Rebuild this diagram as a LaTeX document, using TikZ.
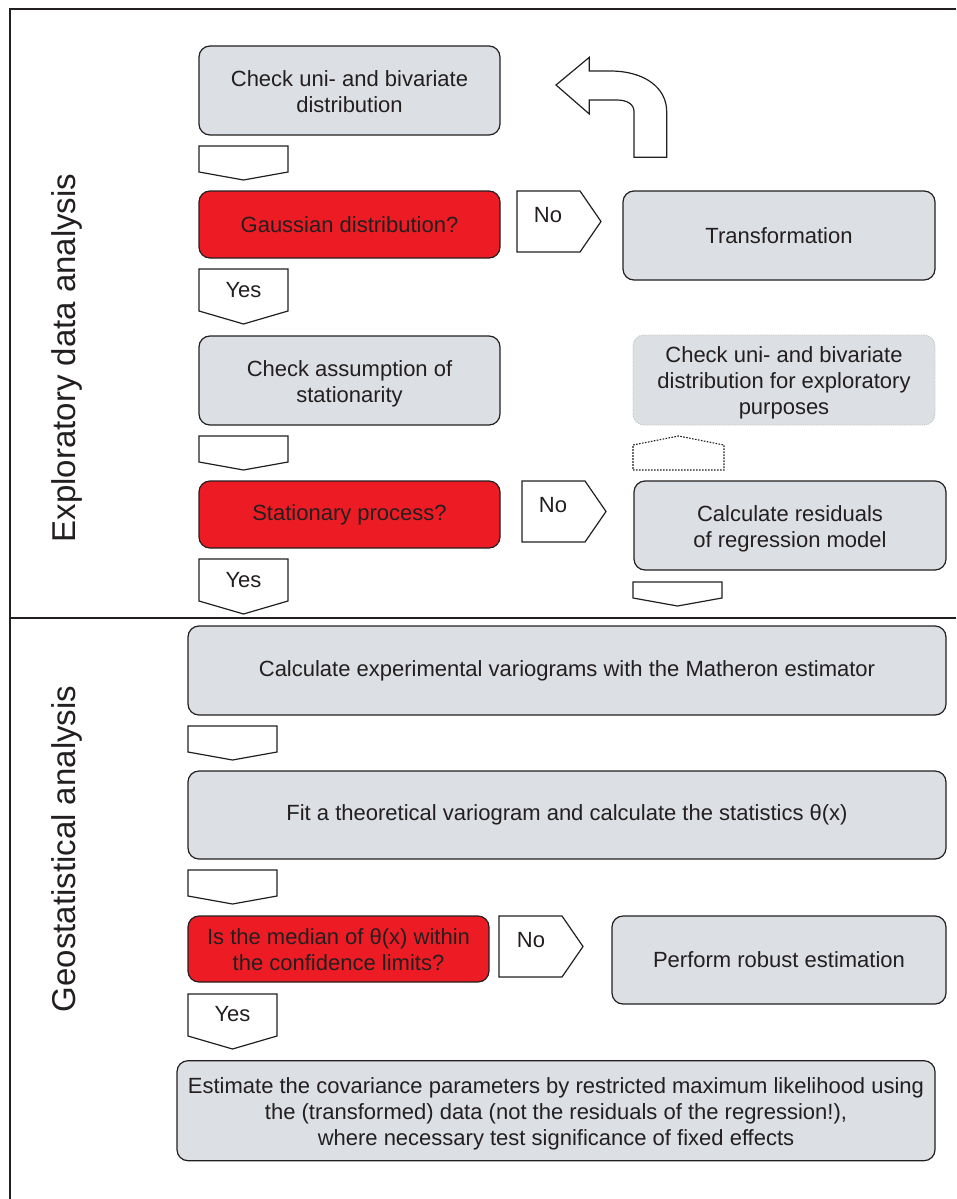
\documentclass[tikz,border=0pt]{standalone}
\usepackage{fontspec}
\setmainfont{Liberation Sans}
\usetikzlibrary{positioning}
\definecolor{boxgray}{HTML}{DCDFE3}
\definecolor{flowred}{HTML}{ED1C24}
\definecolor{inkgray}{HTML}{231F20}

\tikzset{
    flowbox/.style = {draw = inkgray, line width = 1.2pt, rounded corners = 11pt, fill = boxgray,
        align = center, inner sep = 0pt, text = inkgray, font = \fontsize{22}{26}\selectfont},
    redbox/.style = {flowbox, fill = flowred},
    ghostbox/.style = {flowbox, draw = gray!45, densely dotted, line width = 0.9pt},
    blockarrow/.style = {draw = inkgray, line width = 1.2pt, fill = white},
    ghostarrow/.style = {blockarrow, dash pattern = on 1.6pt off 1.4pt, line width = 1.1pt},
    flowlabel/.style = {font = \fontsize{22}{26}\selectfont, text = inkgray, inner sep = 0pt},
    sidelabel/.style = {font = \fontsize{33}{40}\selectfont, rotate = 90, text = inkgray, inner sep = 0pt},
    frameline/.style = {draw = inkgray, line width = 1.3pt}
}

% block arrow pointing down: left, top, shoulder, tip
\newcommand{\downblock}[5][blockarrow]{%
    \draw[#1] (#2,#3) -- (#2+89,#3) -- (#2+89,#4) -- (#2+44.5,#5) -- (#2,#4) -- cycle;}
% block arrow pointing right: left, top
\newcommand{\rightblock}[2]{%
    \draw[blockarrow] (#1,#2) -- (#1+63,#2) -- (#1+84,#2+30.5) -- (#1+63,#2+61) -- (#1,#2+61) -- cycle;}
% push multi-line box texts a little down
\newcommand{\lowered}[1]{\raisebox{-3.5pt}[\height][\depth]{\begin{tabular}{@{}c@{}}#1\end{tabular}}}

\begin{document}
\begin{tikzpicture}[x = 1pt, y = -1pt]
    \useasboundingbox (0,0) rectangle (956,1199);

    % frame
    \draw[frameline] (956,9) -- (10,9) -- (10,1199);
    \draw[frameline] (10,618) -- (956,618);
    \node[sidelabel] (eda) at (67,358) {Exploratory data analysis};
    \node[sidelabel] (geo) at (67,849) {Geostatistical analysis};

    % exploratory part
    \node[flowbox, minimum width = 301pt, minimum height = 89pt] (unibi) at (349.5,90.5) {\lowered{Check uni- and bivariate\\distribution}};
    \downblock{199}{146}{172}{180}
    \node[redbox, minimum width = 301pt, minimum height = 67pt] (gauss) at (349.5,224.5) {Gaussian distribution?};
    \downblock{199}{269}{311}{324}
    \node[flowlabel] (yesa) at (243.5,290) {Yes};
    \rightblock{517}{191}
    \node[flowlabel] (noa) at (548,215) {No};
    \node[flowbox, minimum width = 312pt, minimum height = 89pt] (transf) at (779,235.5) {Transformation};
    \draw[blockarrow] (556,85) -- (589.3,57.3) -- (589.3,71) -- (610,71)
        .. controls (645,71) and (666.7,88) .. (666.7,111.7) -- (666.7,157.3) -- (634,157.3) -- (634,111.7)
        .. controls (634,104) and (627,100) .. (616.7,100) -- (589.3,100) -- (589.3,114) -- cycle;

    \node[flowbox, minimum width = 301pt, minimum height = 89pt] (station) at (349.5,380.5) {\lowered{Check assumption of\\stationarity}};
    \downblock{199}{436}{462}{470}
    \node[redbox, minimum width = 301pt, minimum height = 67pt] (statq) at (349.5,514.5) {Stationary process?};
    \downblock{199}{559}{601}{614}
    \node[flowlabel] (yesb) at (243.5,580) {Yes};
    \rightblock{522}{481}
    \node[flowlabel] (nob) at (553,505) {No};
    \node[ghostbox, minimum width = 302pt, minimum height = 90pt] (explo) at (784,380) {\lowered{Check uni- and bivariate\\distribution for exploratory\\purposes}};
    \draw[ghostarrow] (633,470) -- (724,470) -- (724,445) -- (678.5,436) -- (633,445) -- cycle;
    \node[flowbox, minimum width = 312pt, minimum height = 89pt] (resid) at (790,525.5) {\lowered{Calculate residuals\\of regression model}};
    \downblock{633}{582}{598}{606}

    % geostatistical part
    \node[flowbox, minimum width = 758pt, minimum height = 89pt] (vario) at (567,670.5) {Calculate experimental variograms with the Matheron estimator};
    \downblock{188}{726}{752}{760}
    \node[flowbox, minimum width = 758pt, minimum height = 88pt] (fit) at (567,815) {Fit a theoretical variogram and calculate the statistics θ(x)};
    \downblock{188}{870}{896}{904}
    \node[redbox, minimum width = 301pt, minimum height = 66pt] (median) at (338.5,949) {\lowered{Is the median of θ(x) within\\the confidence limits?}};
    \rightblock{499}{916}
    \node[flowlabel] (noc) at (531,940) {No};
    \node[flowbox, minimum width = 334pt, minimum height = 88pt] (robust) at (779,960) {Perform robust estimation};
    \downblock{188}{994}{1036}{1049}
    \node[flowlabel] (yesc) at (232.5,1014) {Yes};
    \node[flowbox, minimum width = 758pt, minimum height = 100pt] (reml) at (556,1110.7) {\lowered{Estimate the covariance parameters by restricted maximum likelihood using\\the (transformed) data (not the residuals of the regression!),\\where necessary test significance of fixed effects}};
\end{tikzpicture}
\end{document}
